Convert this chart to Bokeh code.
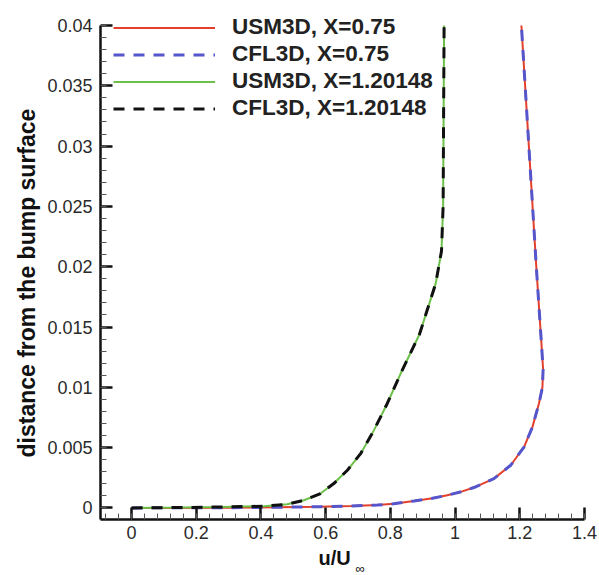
import numpy as np
from bokeh.plotting import figure
from bokeh.models import FixedTicker, CustomJSTickFormatter, Range1d, Title
from bokeh.embed import file_html
from bokeh.resources import INLINE

# ---- data ----
# X = 0.75 station (USM3D solid red, CFL3D dashed blue)
y_usm_075 = [0, 0.00002, 0.00005, 0.0001, 0.00016, 0.00024, 0.00034, 0.00058, 0.0008,
             0.00105, 0.00135, 0.00169, 0.00243, 0.00354, 0.00505, 0.0067, 0.00864,
             0.0100, 0.0115, 0.014, 0.02, 0.03, 0.04]
u_usm_075 = [0, 0.3, 0.45, 0.58, 0.68, 0.76, 0.81, 0.873, 0.93,
             0.976, 1.02, 1.058, 1.12, 1.172, 1.213, 1.239, 1.259,
             1.270, 1.272, 1.266, 1.251, 1.228, 1.205]
y_cfl_075 = list(y_usm_075)
u_cfl_075 = list(u_usm_075)

# X = 1.20148 station (USM3D solid green, CFL3D dashed black)
y_usm_120 = [0, 0.00003, 0.00008, 0.00014, 0.0003, 0.00064, 0.00119, 0.00202, 0.00312,
             0.0045, 0.00643, 0.00864, 0.0111, 0.0144, 0.0186, 0.0213, 0.025, 0.03,
             0.035, 0.04]
u_usm_120 = [0, 0.15, 0.28, 0.41, 0.481, 0.533, 0.584, 0.625, 0.667,
             0.708, 0.749, 0.790, 0.831, 0.890, 0.940, 0.958, 0.963, 0.964,
             0.965, 0.966]
y_cfl_120 = list(y_usm_120)
u_cfl_120 = list(u_usm_120)

x_ticks = [0, 0.2, 0.4, 0.6, 0.8, 1.0, 1.2, 1.4]
y_ticks = [0, 0.005, 0.01, 0.015, 0.02, 0.025, 0.03, 0.035, 0.04]

labels = ["USM3D, X=0.75", "CFL3D, X=0.75", "USM3D, X=1.20148", "CFL3D, X=1.20148"]
y_title = "distance from the bump surface"
x_title = "u/U"
x_title_sub = "∞"

FONT = "Liberation Sans"

Y_MIN, Y_TOP = -0.00096, 0.04
Y_END = Y_TOP + 20 * (Y_TOP - Y_MIN) / 494.0  # room above the axis for the legend

p = figure(width=599, height=575, output_backend="svg", toolbar_location=None,
           x_range=Range1d(-0.096, 1.4), y_range=Range1d(Y_MIN, Y_END),
           min_border_left=100, min_border_right=15, min_border_top=5,
           min_border_bottom=56)
p.outline_line_color = None
p.grid.visible = False
p.background_fill_color = "white"
p.border_fill_color = "white"

p.line(u_usm_075, y_usm_075, line_color="#e2402c", line_width=2, legend_label=labels[0])
p.line(u_cfl_075, y_cfl_075, line_color="#5555cc", line_width=3, line_dash="11 9",
       legend_label=labels[1])
p.line(u_usm_120, y_usm_120, line_color="#6cc04a", line_width=2, legend_label=labels[2])
p.line(u_cfl_120, y_cfl_120, line_color="#111111", line_width=3, line_dash="11 9",
       legend_label=labels[3])

# axes
xminor = [round(v, 2) for v in np.arange(-0.08, 1.41, 0.04)]
yminor = [round(v, 3) for v in np.arange(0, 0.0401, 0.001)]
p.xaxis.ticker = FixedTicker(ticks=x_ticks, minor_ticks=xminor)
p.yaxis.ticker = FixedTicker(ticks=y_ticks, minor_ticks=yminor)
p.xaxis.formatter = CustomJSTickFormatter(
    code="var s = tick.toFixed(2); s = s.replace(/0+$/, ''); s = s.replace(/\\.$/, ''); return s;")
p.yaxis.formatter = CustomJSTickFormatter(
    code="var s = tick.toFixed(3); s = s.replace(/0+$/, ''); s = s.replace(/\\.$/, ''); return s;")
p.yaxis.bounds = (Y_MIN, Y_TOP)

for ax in (p.xaxis[0], p.yaxis[0]):
    ax.axis_line_width = 2.5
    ax.axis_line_color = "#111111"
    ax.major_tick_in = 12
    ax.major_tick_out = 0
    ax.minor_tick_in = 6
    ax.minor_tick_out = 0
    ax.major_tick_line_width = 2.5
    ax.major_tick_line_color = "#111111"
    ax.minor_tick_line_width = 1
    ax.minor_tick_line_color = "#555555"
    ax.major_label_text_font = FONT
    ax.major_label_text_font_size = "18px"
    ax.major_label_text_color = "#2a2a2a"
p.xaxis.major_label_standoff = 6
p.yaxis.major_label_standoff = 8

# y axis title as a left title (so it can be shifted along the axis)
p.add_layout(Title(text=y_title, align="left", offset=62, standoff=10,
                   text_font=FONT, text_font_size="23px", text_font_style="bold",
                   text_color="#111111"), "left")

# x axis title u/U with subscript infinity
p.add_layout(Title(text=x_title, align="left", offset=218, standoff=10,
                   vertical_align="top",
                   text_font=FONT, text_font_size="20px", text_font_style="bold",
                   text_color="#111111"), "below")
p.add_layout(Title(text=x_title_sub, align="left", offset=255, standoff=-30,
                   vertical_align="top",
                   text_font=FONT, text_font_size="13px", text_font_style="normal",
                   text_color="#111111"), "below")

lg = p.legend[0]
lg.location = (13, 398)
lg.padding = 0
lg.margin = 0
lg.spacing = 1
lg.glyph_width = 102
lg.glyph_height = 25
lg.label_height = 25
lg.label_standoff = 17
lg.label_text_font = FONT
lg.label_text_font_size = "22.5px"
lg.label_text_font_style = "bold"
lg.label_text_color = "#222222"
lg.background_fill_alpha = 0
lg.border_line_color = None

open("out.html", "w").write(file_html(p, INLINE))
